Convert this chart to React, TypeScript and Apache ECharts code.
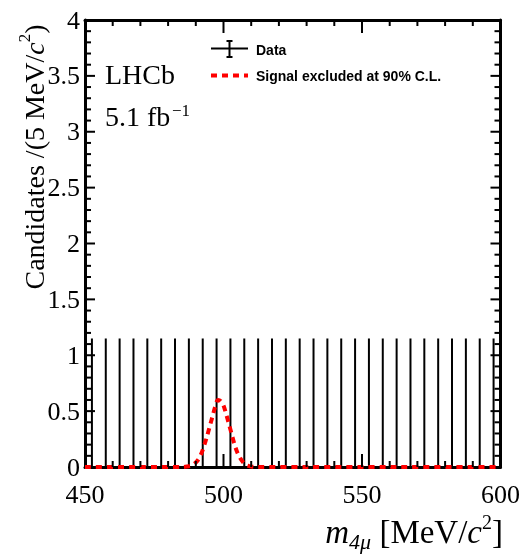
import React, { useEffect, useRef } from "react";
import * as echarts from "echarts";

// Bin centres of the 4-muon invariant mass histogram (5 MeV/c^2 bins)
const binCenters = [
  452.5, 457.5, 462.5, 467.5, 472.5, 477.5, 482.5, 487.5, 492.5, 497.5,
  502.5, 507.5, 512.5, 517.5, 522.5, 527.5, 532.5, 537.5, 542.5, 547.5,
  552.5, 557.5, 562.5, 567.5, 572.5, 577.5, 582.5, 587.5, 592.5, 597.5,
];
// Observed candidates per bin
const counts = [
  0, 0, 0, 0, 0, 0, 0, 0, 0, 0,
  0, 0, 0, 0, 0, 0, 0, 0, 0, 0,
  0, 0, 0, 0, 0, 0, 0, 0, 0, 0,
];
// Poisson errors (lower / upper) for each bin
const errLow = [
  0, 0, 0, 0, 0, 0, 0, 0, 0, 0,
  0, 0, 0, 0, 0, 0, 0, 0, 0, 0,
  0, 0, 0, 0, 0, 0, 0, 0, 0, 0,
];
const errHigh = [
  1.15, 1.15, 1.15, 1.15, 1.15, 1.15, 1.15, 1.15, 1.15, 1.15,
  1.15, 1.15, 1.15, 1.15, 1.15, 1.15, 1.15, 1.15, 1.15, 1.15,
  1.15, 1.15, 1.15, 1.15, 1.15, 1.15, 1.15, 1.15, 1.15, 1.15,
];
const binHalfWidth = 2.5;

// Signal shape excluded at 90% C.L.
const signalMass = [
  450, 470, 485, 487, 488, 489, 490, 491, 492, 493, 494, 495, 496, 497,
  498, 499, 500, 501, 502, 503, 504, 505, 506, 507, 508, 509, 510, 512,
  530, 560, 600,
];
const signalYield = [
  0, 0, 0, 0.005, 0.01, 0.02, 0.04, 0.07, 0.12, 0.19, 0.27, 0.36, 0.45, 0.54,
  0.6, 0.59, 0.55, 0.47, 0.38, 0.29, 0.2, 0.13, 0.08, 0.045, 0.02, 0.01, 0.004, 0,
  0, 0, 0,
];

// Axis ranges and tick marks (ROOT-style frame with ticks on all four sides)
const xRange = [450, 600];
const yRange = [0, 4];
const yTickLabels = ["0", "0.5", "1", "1.5", "2", "2.5", "3", "3.5", "4"];
const xMajorTicks = [500, 550];
const xMinorTicks = [460, 470, 480, 490, 510, 520, 530, 540, 560, 570, 580, 590];
const yMajorTicks = [0.5, 1, 1.5, 2, 2.5, 3, 3.5];
const yMinorTicks = [
  0.1, 0.2, 0.3, 0.4, 0.6, 0.7, 0.8, 0.9, 1.1, 1.2, 1.3, 1.4,
  1.6, 1.7, 1.8, 1.9, 2.1, 2.2, 2.3, 2.4, 2.6, 2.7, 2.8, 2.9,
  3.1, 3.2, 3.3, 3.4, 3.6, 3.7, 3.8, 3.9,
];

const SERIF = "'Liberation Serif', 'Times New Roman', serif";
const SANS = "'Liberation Sans', Arial, sans-serif";

export default function App() {
  const ref = useRef<HTMLDivElement>(null);

  useEffect(() => {
    if (!ref.current) return;
    const chart = echarts.init(ref.current, undefined, { renderer: "svg" });

    const frameX = (position: "bottom" | "top", labels: boolean) => ({
      type: "value",
      position,
      min: xRange[0],
      max: xRange[1],
      interval: 50,
      axisLine: { show: true, onZero: false, lineStyle: { color: "#000", width: 3 } },
      axisTick: { show: false },
      minorTick: { show: false },
      splitLine: { show: false },
      axisLabel: {
        show: labels,
        color: "#000",
        fontFamily: SERIF,
        fontSize: 26,
        margin: 14,
        showMinLabel: true,
        showMaxLabel: true,
      },
    });

    const frameY = (position: "left" | "right", labels: boolean) => ({
      type: "value",
      position,
      min: yRange[0],
      max: yRange[1],
      interval: 0.5,
      axisLine: { show: true, onZero: false, lineStyle: { color: "#000", width: 3 } },
      axisTick: { show: false },
      minorTick: { show: false },
      splitLine: { show: false },
      axisLabel: {
        show: labels,
        color: "#000",
        fontFamily: SERIF,
        fontSize: 26,
        margin: 5,
        showMinLabel: true,
        showMaxLabel: true,
        formatter: (v: number) => yTickLabels[Math.round(v * 2)] ?? String(v),
      },
    });

    // Inward ticks along the bottom and top frame edges
    const xTickSeries = (ticks: number[], len: number) => ({
      type: "custom",
      xAxisIndex: 0,
      yAxisIndex: 0,
      z: 4,
      silent: true,
      data: ticks.map((v) => [v, yRange[0]]),
      renderItem: (p: any, api: any) => {
        const v = ticks[p.dataIndex];
        const b = api.coord([v, yRange[0]]);
        const t = api.coord([v, yRange[1]]);
        return {
          type: "group",
          children: [
            { type: "line", shape: { x1: b[0], y1: b[1], x2: b[0], y2: b[1] - len }, style: { stroke: "#000", lineWidth: 2 } },
            { type: "line", shape: { x1: t[0], y1: t[1], x2: t[0], y2: t[1] + len }, style: { stroke: "#000", lineWidth: 2 } },
          ],
        };
      },
    });

    // Inward ticks along the left and right frame edges
    const yTickSeries = (ticks: number[], len: number) => ({
      type: "custom",
      xAxisIndex: 0,
      yAxisIndex: 0,
      z: 4,
      silent: true,
      data: ticks.map((v) => [xRange[0], v]),
      renderItem: (p: any, api: any) => {
        const v = ticks[p.dataIndex];
        const l = api.coord([xRange[0], v]);
        const r = api.coord([xRange[1], v]);
        return {
          type: "group",
          children: [
            { type: "line", shape: { x1: l[0], y1: l[1], x2: l[0] + len, y2: l[1] }, style: { stroke: "#000", lineWidth: 2 } },
            { type: "line", shape: { x1: r[0], y1: r[1], x2: r[0] - len, y2: r[1] }, style: { stroke: "#000", lineWidth: 2 } },
          ],
        };
      },
    });

    const errData = binCenters.map((c, i) => [c, counts[i], errLow[i], errHigh[i]]);
    const sigData = signalMass.map((m, i) => [m, signalYield[i]]);

    chart.setOption({
      animation: false,
      grid: { left: 85, top: 20, width: 417, height: 447, containLabel: false },
      xAxis: [frameX("bottom", true), frameX("top", false)],
      yAxis: [frameY("left", true), frameY("right", false)],
      series: [
        {
          type: "custom",
          name: "Data",
          xAxisIndex: 0,
          yAxisIndex: 0,
          z: 1,
          data: errData,
          renderItem: (_p: any, api: any) => {
            const c = api.value(0);
            const y = api.value(1);
            const lo = api.value(2);
            const hi = api.value(3);
            const top = api.coord([c, y + hi]);
            const bot = api.coord([c, y - lo]);
            const l = api.coord([c - binHalfWidth, y]);
            const r = api.coord([c + binHalfWidth, y]);
            return {
              type: "group",
              children: [
                {
                  type: "line",
                  shape: { x1: top[0], y1: top[1], x2: bot[0], y2: bot[1] },
                  style: { stroke: "#000", lineWidth: 2 },
                },
                {
                  type: "line",
                  shape: { x1: l[0], y1: l[1], x2: r[0], y2: r[1] },
                  style: { stroke: "#000", lineWidth: 2 },
                },
              ],
            };
          },
        },
        {
          type: "line",
          name: "Signal excluded at 90% C.L.",
          xAxisIndex: 0,
          yAxisIndex: 0,
          z: 2,
          data: sigData,
          showSymbol: false,
          smooth: 0.3,
          lineStyle: { color: "#ff0000", width: 4, type: [6, 5] },
        },
        xTickSeries(xMajorTicks, 13),
        xTickSeries(xMinorTicks, 6),
        yTickSeries(yMajorTicks, 10),
        yTickSeries(yMinorTicks, 6),
      ],
      graphic: [
        // Legend: data marker
        { type: "line", shape: { x1: 211, y1: 48.5, x2: 248, y2: 48.5 }, style: { stroke: "#000", lineWidth: 2 } },
        { type: "line", shape: { x1: 229.5, y1: 41, x2: 229.5, y2: 57 }, style: { stroke: "#000", lineWidth: 2 } },
        { type: "line", shape: { x1: 226.5, y1: 41, x2: 232.5, y2: 41 }, style: { stroke: "#000", lineWidth: 2 } },
        { type: "line", shape: { x1: 226.5, y1: 57, x2: 232.5, y2: 57 }, style: { stroke: "#000", lineWidth: 2 } },
        {
          type: "text",
          x: 256,
          y: 50,
          style: { text: "Data", font: `bold 14px ${SANS}`, fill: "#000", verticalAlign: "middle" },
        },
        // Legend: signal
        {
          type: "line",
          shape: { x1: 211, y1: 75.5, x2: 248, y2: 75.5 },
          style: { stroke: "#ff0000", lineWidth: 4, lineDash: [6, 5] },
        },
        {
          type: "text",
          x: 256,
          y: 76,
          style: {
            text: "Signal excluded at 90% C.L.",
            font: `bold 14px ${SANS}`,
            fill: "#000",
            verticalAlign: "middle",
          },
        },
        // Experiment label and luminosity
        {
          type: "text",
          x: 105,
          y: 74,
          style: { text: "LHCb", font: `28px ${SERIF}`, fill: "#000", verticalAlign: "middle" },
        },
        {
          type: "text",
          x: 105,
          y: 116,
          style: { text: "5.1 fb", font: `28px ${SERIF}`, fill: "#000", verticalAlign: "middle" },
        },
        {
          type: "text",
          x: 172,
          y: 110,
          style: { text: "−1", font: `17px ${SERIF}`, fill: "#000", verticalAlign: "middle" },
        },
        // Y axis title
        {
          type: "text",
          x: 34,
          y: 157,
          rotation: Math.PI / 2,
          style: {
            text: "{n|Candidates /(5 MeV/}{i|c}{s|2}{n|)}",
            fill: "#000",
            align: "center",
            verticalAlign: "middle",
            rich: {
              n: { fontFamily: SERIF, fontSize: 28, lineHeight: 36, fill: "#000" },
              i: { fontFamily: SERIF, fontStyle: "italic", fontSize: 28, lineHeight: 36, fill: "#000" },
              s: { fontFamily: SERIF, fontSize: 17, lineHeight: 24, verticalAlign: "top", fill: "#000" },
            },
          },
        },
        // X axis title
        {
          type: "text",
          x: 503,
          y: 532,
          style: {
            text: "{i|m}{b|4μ}{n| [MeV/}{i|c}{s|2}{n|]}",
            fill: "#000",
            align: "right",
            verticalAlign: "middle",
            rich: {
              n: { fontFamily: SERIF, fontSize: 33, lineHeight: 40, fill: "#000" },
              i: { fontFamily: SERIF, fontStyle: "italic", fontSize: 33, lineHeight: 40, fill: "#000" },
              b: { fontFamily: SERIF, fontStyle: "italic", fontSize: 22, lineHeight: 18, verticalAlign: "bottom", fill: "#000" },
              s: { fontFamily: SERIF, fontSize: 20, lineHeight: 26, verticalAlign: "top", fill: "#000" },
            },
          },
        },
      ],
    });

    return () => chart.dispose();
  }, []);

  return <div ref={ref} style={{ position: "fixed", left: 0, top: 0, width: 523, height: 555 }} />;
}
